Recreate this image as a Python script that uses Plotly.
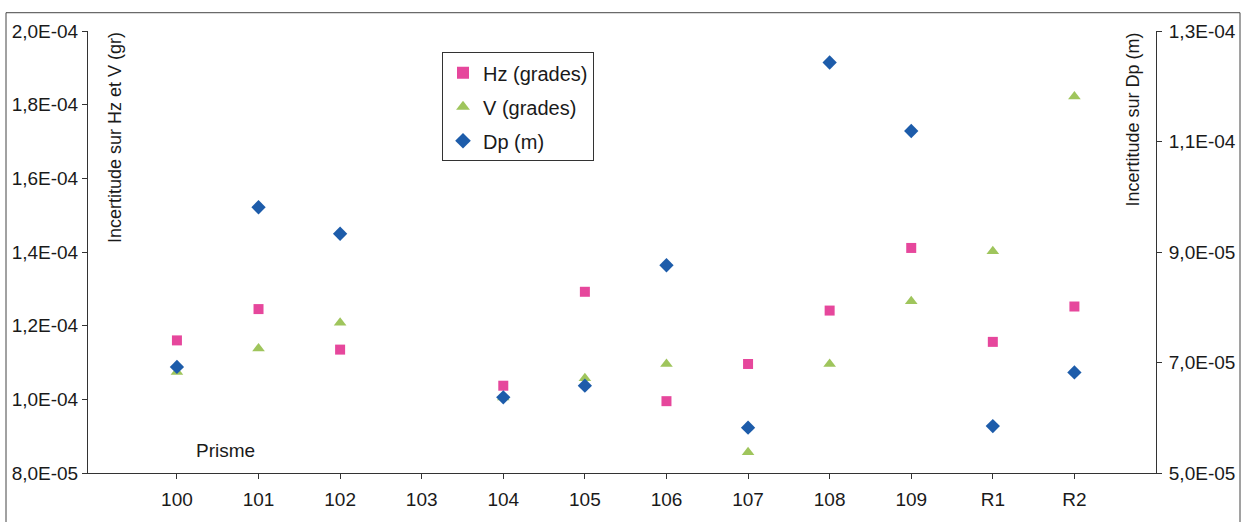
import plotly.graph_objects as go

# stations along the x axis
categories = ["100", "101", "102", "103", "104", "105", "106", "107", "108", "109", "R1", "R2"]

hz_grades = [1.160e-4, 1.245e-4, 1.135e-4, None, 1.037e-4, 1.292e-4, 0.995e-4, 1.096e-4, 1.241e-4, 1.411e-4, 1.156e-4, 1.252e-4]
v_grades = [1.074e-4, 1.138e-4, 1.208e-4, None, 1.005e-4, 1.057e-4, 1.096e-4, 0.856e-4, 1.096e-4, 1.266e-4, 1.402e-4, 1.822e-4]
dp_m = [6.92e-5, 9.81e-5, 9.33e-5, None, 6.37e-5, 6.58e-5, 8.76e-5, 5.82e-5, 1.243e-4, 1.119e-4, 5.85e-5, 6.82e-5]

left_ticks = [8.0e-5, 1.0e-4, 1.2e-4, 1.4e-4, 1.6e-4, 1.8e-4, 2.0e-4]
left_labels = ["8,0E-05", "1,0E-04", "1,2E-04", "1,4E-04", "1,6E-04", "1,8E-04", "2,0E-04"]
right_ticks = [5.0e-5, 7.0e-5, 9.0e-5, 1.1e-4, 1.3e-4]
right_labels = ["5,0E-05", "7,0E-05", "9,0E-05", "1,1E-04", "1,3E-04"]

FONT = "Liberation Sans, Arial, sans-serif"
W, H = 1249, 522
# plot area in pixels
L, R, T, B = 88, 1156, 30.5, 477.5


def px_x(x):
    return (x - L) / (R - L)


def px_y(y):
    return (B - y) / (B - T)


fig = go.Figure()
fig.add_trace(go.Scatter(x=categories, y=hz_grades, mode="markers", name="Hz (grades)",
                         legendgroup="hz",
                         marker=dict(symbol="square", size=10, color="#E6479C")))
fig.add_trace(go.Scatter(x=categories, y=v_grades, mode="markers", name="V (grades)",
                         legendgroup="v",
                         marker=dict(symbol="triangle-up", size=11, color="#9FC55C")))
fig.add_trace(go.Scatter(x=categories, y=dp_m, mode="markers", name="Dp (m)",
                         legendgroup="dp", yaxis="y2",
                         marker=dict(symbol="diamond", size=11, color="#1D5CAA")))

fig.update_layout(
    width=W, height=H,
    margin=dict(l=L, r=W - R, t=T, b=H - B, pad=0),
    paper_bgcolor="white", plot_bgcolor="white",
    font=dict(family=FONT, size=19, color="#1a1a1a"),
    xaxis=dict(type="category", categoryorder="array", categoryarray=categories,
               range=[-1.09, 12.0], showgrid=False, zeroline=False,
               showline=True, linecolor="#333", linewidth=1,
               ticks="outside", ticklen=5, tickcolor="#333",
               ticklabelstandoff=4, tickfont=dict(size=19)),
    yaxis=dict(range=[8.0e-5, 2.0e-4], tickvals=left_ticks, ticktext=left_labels,
               showgrid=False, zeroline=False, showline=True, linecolor="#333",
               linewidth=1, ticks="outside", ticklen=5, tickcolor="#333",
               tickfont=dict(size=19)),
    yaxis2=dict(range=[5.0e-5, 1.3e-4], tickvals=right_ticks, ticktext=right_labels,
                overlaying="y", side="right", showgrid=False, zeroline=False,
                showline=True, linecolor="#333", linewidth=1,
                ticks="outside", ticklen=5, tickcolor="#333",
                ticklabelstandoff=3, tickfont=dict(size=19)),
    showlegend=True,
    legend=dict(x=px_x(442), y=px_y(52), xanchor="left", yanchor="top",
                bordercolor="#333", borderwidth=1, bgcolor="white",
                font=dict(size=20), tracegroupgap=5, itemsizing="constant"),
)

# axis titles sit inside the plot area
fig.add_annotation(text="Incertitude sur Hz et V (gr)", textangle=-90,
                   xref="paper", yref="paper", x=px_x(115), y=px_y(30),
                   xanchor="center", yanchor="top", showarrow=False,
                   font=dict(size=18))
fig.add_annotation(text="Incertitude sur Dp (m)", textangle=-90,
                   xref="paper", yref="paper", x=px_x(1133), y=px_y(30),
                   xanchor="center", yanchor="top", showarrow=False,
                   font=dict(size=18))
fig.add_annotation(text="Prisme", xref="paper", yref="paper",
                   x=px_x(225), y=px_y(455), xanchor="center", yanchor="middle",
                   showarrow=False, font=dict(size=19))

# outer chart frame
fig.add_shape(type="rect", xref="paper", yref="paper",
              x0=px_x(6), x1=px_x(1240), y0=px_y(540), y1=px_y(12),
              line=dict(color="#444", width=1), layer="below")

# page body margin would shift the chart by 8px
fig.write_html("out.html", config={"displayModeBar": False},
               post_script="document.body.style.margin='0';")
